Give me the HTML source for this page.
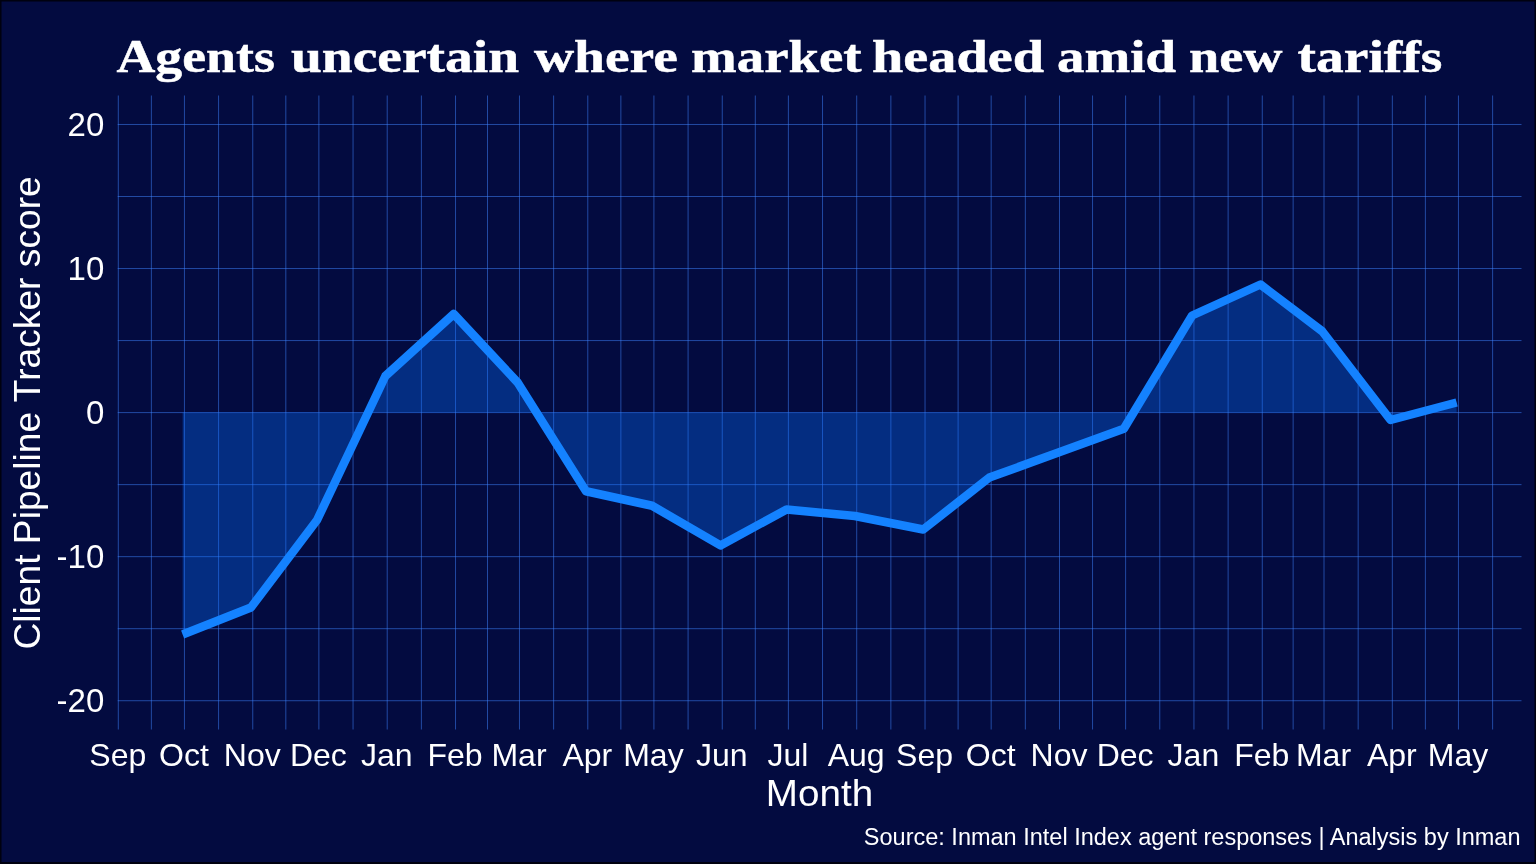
<!DOCTYPE html>
<html lang="en"><head><meta charset="utf-8"><title>Agents uncertain where market headed amid new tariffs</title>
<style>
html,body{margin:0;padding:0;background:#000;}
body{width:1536px;height:864px;overflow:hidden;}
svg{display:block;will-change:transform;}
.sans{font-family:"Liberation Sans","Helvetica Neue",Helvetica,Arial,sans-serif;fill:#fff;}
.serif{font-family:"Liberation Serif",Georgia,"Times New Roman",serif;fill:#fff;font-weight:bold;}
</style></head><body>
<svg width="1536" height="864" viewBox="0 0 1536 864">
<rect x="0" y="0" width="1536" height="864" fill="#00010f"/>
<rect x="1.5" y="1.5" width="1533" height="860.5" fill="#030b40"/>
<path d="M118.30 95.5V729.5M184.43 95.5V729.5M252.76 95.5V729.5M318.88 95.5V729.5M387.21 95.5V729.5M455.54 95.5V729.5M519.46 95.5V729.5M587.79 95.5V729.5M653.92 95.5V729.5M722.25 95.5V729.5M788.38 95.5V729.5M856.71 95.5V729.5M925.04 95.5V729.5M991.16 95.5V729.5M1059.49 95.5V729.5M1125.62 95.5V729.5M1193.95 95.5V729.5M1262.28 95.5V729.5M1324.00 95.5V729.5M1392.33 95.5V729.5M1458.45 95.5V729.5M151.36 95.5V729.5M218.59 95.5V729.5M285.82 95.5V729.5M353.05 95.5V729.5M421.38 95.5V729.5M487.50 95.5V729.5M553.63 95.5V729.5M620.86 95.5V729.5M688.09 95.5V729.5M755.31 95.5V729.5M822.54 95.5V729.5M890.87 95.5V729.5M958.10 95.5V729.5M1025.33 95.5V729.5M1092.56 95.5V729.5M1159.78 95.5V729.5M1228.11 95.5V729.5M1293.14 95.5V729.5M1358.16 95.5V729.5M1425.39 95.5V729.5M1492.62 95.5V729.5" stroke="rgba(64,132,255,0.52)" stroke-width="1.0" fill="none"/>
<path d="M117.70 700.72H1521.5M117.70 628.69H1521.5M117.70 556.66H1521.5M117.70 484.63H1521.5M117.70 412.60H1521.5M117.70 340.57H1521.5M117.70 268.54H1521.5M117.70 196.51H1521.5M117.70 124.48H1521.5" stroke="rgba(64,132,255,0.52)" stroke-width="1.0" fill="none"/>
<path d="M182.63 634.50 L250.96 607.50 L317.08 520.00 L385.41 376.00 L453.74 314.00 L517.66 382.50 L585.99 491.25 L652.12 505.75 L720.45 545.40 L786.58 509.50 L854.91 516.00 L923.24 529.50 L989.36 477.50 L1057.69 452.80 L1123.82 428.75 L1192.15 315.50 L1260.48 284.50 L1322.20 331.25 L1390.53 420.00 L1456.65 402.50 L1456.65 412.6 L182.63 412.6 Z" fill="rgba(10,110,255,0.34)" fill-rule="nonzero"/>
<path d="M182.63 634.50 L250.96 607.50 L317.08 520.00 L385.41 376.00 L453.74 314.00 L517.66 382.50 L585.99 491.25 L652.12 505.75 L720.45 545.40 L786.58 509.50 L854.91 516.00 L923.24 529.50 L989.36 477.50 L1057.69 452.80 L1123.82 428.75 L1192.15 315.50 L1260.48 284.50 L1322.20 331.25 L1390.53 420.00 L1456.65 402.50" stroke="#1482ff" stroke-width="8.5" fill="none" stroke-linejoin="round" stroke-linecap="butt"/>
<text class="serif" y="72" font-size="47" stroke="#fff" stroke-width="0.5" paint-order="stroke"><tspan x="116.46" textLength="158.44" lengthAdjust="spacingAndGlyphs">Agents</tspan> <tspan x="291.04" textLength="227.96" lengthAdjust="spacingAndGlyphs">uncertain</tspan> <tspan x="533.94" textLength="143.92" lengthAdjust="spacingAndGlyphs">where</tspan> <tspan x="691.12" textLength="170.38" lengthAdjust="spacingAndGlyphs">market</tspan> <tspan x="872.10" textLength="171.86" lengthAdjust="spacingAndGlyphs">headed</tspan> <tspan x="1057.10" textLength="118.94" lengthAdjust="spacingAndGlyphs">amid</tspan> <tspan x="1189.10" textLength="93.42" lengthAdjust="spacingAndGlyphs">new</tspan> <tspan x="1297.58" textLength="144.82" lengthAdjust="spacingAndGlyphs">tariffs</tspan></text>
<text class="sans" x="104.3" y="136.2" font-size="33" text-anchor="end">20</text>
<text class="sans" x="104.3" y="280.2" font-size="33" text-anchor="end">10</text>
<text class="sans" x="104.3" y="424.3" font-size="33" text-anchor="end">0</text>
<text class="sans" x="104.3" y="568.4" font-size="33" text-anchor="end">-10</text>
<text class="sans" x="104.3" y="712.4" font-size="33" text-anchor="end">-20</text>
<text class="sans" x="117.8" y="766" font-size="32" text-anchor="middle">Sep</text>
<text class="sans" x="183.9" y="766" font-size="32" text-anchor="middle">Oct</text>
<text class="sans" x="252.3" y="766" font-size="32" text-anchor="middle">Nov</text>
<text class="sans" x="318.4" y="766" font-size="32" text-anchor="middle">Dec</text>
<text class="sans" x="386.7" y="766" font-size="32" text-anchor="middle">Jan</text>
<text class="sans" x="455.0" y="766" font-size="32" text-anchor="middle">Feb</text>
<text class="sans" x="519.0" y="766" font-size="32" text-anchor="middle">Mar</text>
<text class="sans" x="587.3" y="766" font-size="32" text-anchor="middle">Apr</text>
<text class="sans" x="653.4" y="766" font-size="32" text-anchor="middle">May</text>
<text class="sans" x="721.8" y="766" font-size="32" text-anchor="middle">Jun</text>
<text class="sans" x="787.9" y="766" font-size="32" text-anchor="middle">Jul</text>
<text class="sans" x="856.2" y="766" font-size="32" text-anchor="middle">Aug</text>
<text class="sans" x="924.5" y="766" font-size="32" text-anchor="middle">Sep</text>
<text class="sans" x="990.7" y="766" font-size="32" text-anchor="middle">Oct</text>
<text class="sans" x="1059.0" y="766" font-size="32" text-anchor="middle">Nov</text>
<text class="sans" x="1125.1" y="766" font-size="32" text-anchor="middle">Dec</text>
<text class="sans" x="1193.4" y="766" font-size="32" text-anchor="middle">Jan</text>
<text class="sans" x="1261.8" y="766" font-size="32" text-anchor="middle">Feb</text>
<text class="sans" x="1323.5" y="766" font-size="32" text-anchor="middle">Mar</text>
<text class="sans" x="1391.8" y="766" font-size="32" text-anchor="middle">Apr</text>
<text class="sans" x="1458.0" y="766" font-size="32" text-anchor="middle">May</text>
<text class="sans" x="819.5" y="805.7" font-size="37.2" text-anchor="middle" textLength="107.3" lengthAdjust="spacingAndGlyphs">Month</text>
<text class="sans" transform="translate(40 412.9) rotate(-90)" font-size="37.2" text-anchor="middle">Client Pipeline Tracker score</text>
<text class="sans" x="1520.5" y="845" font-size="23.5" text-anchor="end">Source: Inman Intel Index agent responses | Analysis by Inman</text>
</svg></body></html>
